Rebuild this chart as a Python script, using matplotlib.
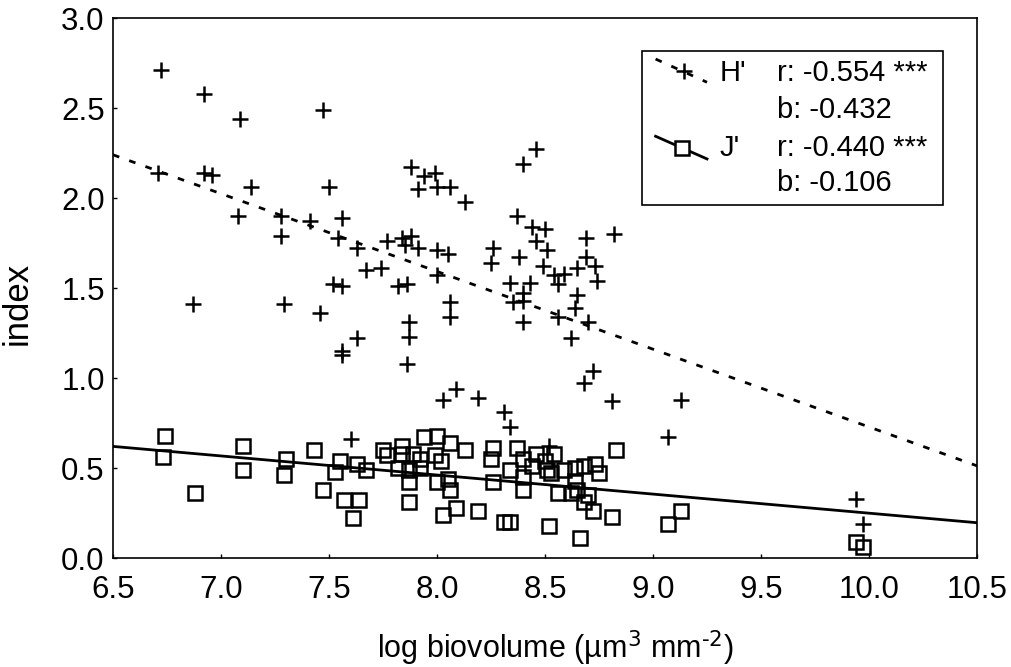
import matplotlib
matplotlib.use("Agg")
import matplotlib.pyplot as plt
import numpy as np
from matplotlib.patches import Rectangle

# ---- data ----
h_x = [6.72, 6.92, 7.09, 7.47, 6.71, 6.92, 6.96, 7.14, 7.50, 7.08, 7.28, 7.28, 7.41, 7.56,
       7.54, 7.63, 7.67, 7.52, 7.56, 6.87, 7.29, 7.46, 7.63, 7.56, 7.56, 8.46, 8.40, 7.88,
       7.94, 7.99, 7.91, 8.00, 8.06, 8.13, 8.37, 8.44, 8.50, 8.69, 8.82, 7.88, 7.84, 7.77,
       7.85, 7.91, 8.00, 8.05, 8.26, 8.25, 8.38, 8.46, 8.51, 8.49, 8.54, 8.59, 8.65, 8.69,
       8.73, 8.74, 8.56, 7.74, 7.82, 7.86, 8.00, 8.34, 8.43, 8.40, 8.35, 8.40, 8.40, 8.06,
       8.06, 7.87, 7.87, 7.86, 8.65, 8.64, 8.56, 8.70, 8.62, 8.72, 8.68, 8.81, 8.03, 8.09,
       8.19, 8.31, 8.34, 8.52, 9.13, 9.07, 9.94, 9.97, 7.60]
h_y = [2.71, 2.58, 2.44, 2.49, 2.14, 2.14, 2.13, 2.06, 2.06, 1.90, 1.90, 1.79, 1.87, 1.89,
       1.78, 1.72, 1.60, 1.52, 1.51, 1.41, 1.41, 1.36, 1.22, 1.15, 1.13, 2.27, 2.19, 2.17,
       2.12, 2.14, 2.05, 2.06, 2.06, 1.98, 1.90, 1.84, 1.83, 1.78, 1.80, 1.79, 1.78, 1.76,
       1.74, 1.72, 1.71, 1.69, 1.72, 1.64, 1.67, 1.76, 1.71, 1.62, 1.57, 1.58, 1.61, 1.67,
       1.62, 1.54, 1.52, 1.61, 1.51, 1.52, 1.57, 1.53, 1.53, 1.47, 1.42, 1.43, 1.31, 1.42,
       1.34, 1.31, 1.23, 1.08, 1.46, 1.39, 1.34, 1.31, 1.22, 1.04, 0.97, 0.87, 0.88, 0.94,
       0.89, 0.81, 0.73, 0.62, 0.88, 0.67, 0.33, 0.19, 0.66]

j_x = [6.74, 6.73, 6.88, 7.10, 7.10, 7.30, 7.29, 7.43, 7.47, 7.55, 7.53, 7.63, 7.67, 7.57,
       7.64, 7.61, 7.75, 7.77, 7.84, 7.84, 7.89, 7.92, 7.82, 7.87, 7.92, 7.87, 7.87, 7.94,
       8.00, 8.06, 8.13, 7.99, 8.02, 8.00, 8.05, 8.06, 8.09, 8.03, 8.19, 8.26, 8.25, 8.26,
       8.31, 8.34, 8.37, 8.40, 8.34, 8.40, 8.40, 8.46, 8.44, 8.50, 8.51, 8.53, 8.54, 8.59,
       8.64, 8.68, 8.73, 8.75, 8.64, 8.56, 8.62, 8.65, 8.70, 8.68, 8.72, 8.52, 8.66, 8.81,
       8.83, 9.13, 9.07, 9.94, 9.97]
j_y = [0.68, 0.56, 0.36, 0.62, 0.49, 0.55, 0.46, 0.60, 0.38, 0.54, 0.48, 0.52, 0.49, 0.32,
       0.32, 0.22, 0.60, 0.57, 0.62, 0.58, 0.58, 0.55, 0.50, 0.49, 0.50, 0.42, 0.31, 0.67,
       0.68, 0.64, 0.60, 0.57, 0.54, 0.42, 0.44, 0.38, 0.28, 0.24, 0.26, 0.61, 0.55, 0.42,
       0.20, 0.20, 0.61, 0.55, 0.49, 0.45, 0.38, 0.58, 0.51, 0.54, 0.49, 0.47, 0.58, 0.49,
       0.50, 0.51, 0.52, 0.47, 0.43, 0.36, 0.36, 0.38, 0.35, 0.31, 0.26, 0.18, 0.11, 0.23,
       0.60, 0.26, 0.19, 0.09, 0.06]

h_intercept, h_slope = 5.048, -0.432
j_intercept, j_slope = 1.309, -0.106

x_ticks = [6.5, 7.0, 7.5, 8.0, 8.5, 9.0, 9.5, 10.0, 10.5]
y_ticks = [0.0, 0.5, 1.0, 1.5, 2.0, 2.5, 3.0]

legend_rows = [("H'", "r: -0.554 ***", "b: -0.432"),
               ("J'", "r: -0.440 ***", "b: -0.106")]

# ---- plot ----
plt.rcParams['font.family'] = ['Liberation Sans', 'DejaVu Sans']
plt.rcParams['axes.unicode_minus'] = False
fig = plt.figure(figsize=(10.12, 6.67), dpi=100)
ax = fig.add_axes([113 / 1012, 1 - 558 / 667, 864 / 1012, 540 / 667])

xl = np.array([x_ticks[0], x_ticks[-1]])
ax.plot(xl, h_intercept + h_slope * xl, color='black', lw=2.0,
        linestyle=(0, (2.4, 3.8)), zorder=2)
ax.plot(xl, j_intercept + j_slope * xl, color='black', lw=2.0, zorder=2)

ax.plot(h_x, h_y, linestyle='none', marker='+', ms=12, mew=1.8, color='black', zorder=3)
ax.plot(j_x, j_y, linestyle='none', marker='s', ms=9.5, mew=1.8, mfc='none',
        mec='black', zorder=3)

ax.set_xlim(x_ticks[0], x_ticks[-1])
ax.set_ylim(y_ticks[0], y_ticks[-1])
ax.set_xticks(x_ticks)
ax.set_yticks(y_ticks)
ax.set_xticklabels([f"{v:.1f}" for v in x_ticks])
ax.set_yticklabels([f"{v:.1f}" for v in y_ticks])
ax.tick_params(axis='both', direction='in', length=3, width=1, labelsize=22.5)
ax.tick_params(axis='x', pad=12)
ax.tick_params(axis='y', pad=6)
for s in ax.spines.values():
    s.set_linewidth(1.2)

ax.set_xlabel("log biovolume (\u00b5m$^{3}$ mm$^{\u2010 2}$)", fontsize=22)
ax.xaxis.set_label_coords((555 - 113) / 864, (558 - 668) / 540)
ax.xaxis.label.set_verticalalignment('bottom')
ax.set_ylabel("index", fontsize=25)
ax.yaxis.set_label_coords((34 - 113) / 864, (558 - 303) / 540)

# ---- legend (manual) ----
T = ax.transAxes
ax.add_patch(Rectangle((0.612, 0.654), 0.349, 0.285, transform=T, fill=True,
                       facecolor='white', edgecolor='black', lw=1.2, zorder=5))
ax.plot([0.628, 0.6875], [0.924, 0.881], transform=T, color='black', lw=2,
        linestyle=(0, (2.4, 3.8)), zorder=6)
ax.plot([0.661], [0.902], transform=T, marker='+', ms=12, mew=1.8, color='black', zorder=7)
ax.plot([0.628, 0.6875], [0.781, 0.739], transform=T, color='black', lw=2, zorder=6)
ax.plot([0.659], [0.760], transform=T, marker='s', ms=9.5, mew=1.8, mfc='white',
        mec='black', zorder=7)

row_y = [(0.898, 0.830), (0.759, 0.694)]
for (name, rtxt, btxt), (y1, y2) in zip(legend_rows, row_y):
    ax.text(0.702, y1, name, transform=T, fontsize=21, va='center', ha='left', zorder=8)
    ax.text(0.769, y1, rtxt, transform=T, fontsize=21, va='center', ha='left', zorder=8)
    ax.text(0.769, y2, btxt, transform=T, fontsize=21, va='center', ha='left', zorder=8)

fig.savefig("out.png", dpi=100, facecolor='white')
